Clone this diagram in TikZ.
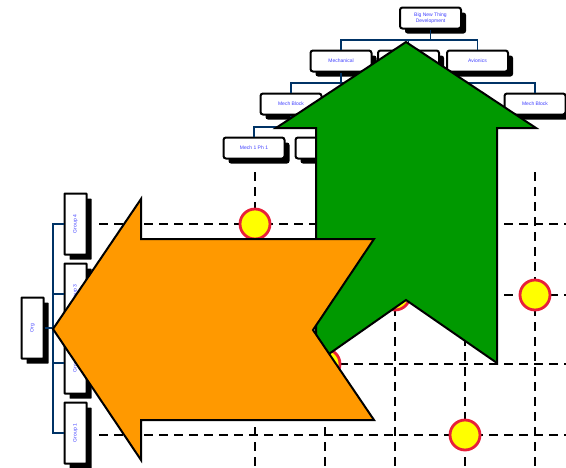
\documentclass[tikz,border=0pt]{standalone}
\usepackage{fontspec}
\setmainfont{Liberation Sans}
\usetikzlibrary{shadows}
\definecolor{navy}{HTML}{003366}
\definecolor{lbl}{HTML}{4040FF}
\definecolor{grn}{HTML}{009900}
\definecolor{org}{HTML}{FF9900}
\definecolor{ring}{HTML}{E8203A}
\definecolor{dot}{HTML}{FFFF00}
\tikzset{
  obox/.style={draw=black, line width=2pt, fill=white, rounded corners=2.5pt,
    minimum width=61pt, minimum height=21pt, inner sep=0pt, text=lbl,
    font=\fontsize{5}{6}\selectfont, align=center,
    drop shadow={shadow xshift=5pt, shadow yshift=-5pt, fill=black, opacity=1}},
  vbox/.style={obox, rounded corners=0.5pt, minimum width=22pt, minimum height=61pt},
  conn/.style={draw=navy, line width=1.6pt},
  gridline/.style={line width=2pt, dash pattern=on 9pt off 6pt},
  spot/.style={circle, draw=ring, fill=dot, line width=2.8pt, minimum size=30pt, inner sep=0pt},
  arrowshape/.style={draw=black, line width=2pt, line join=miter},
}
\begin{document}
\begin{tikzpicture}[x=1pt,y=-1pt]
\useasboundingbox (0,0) rectangle (566,467);
% top org tree
\node[obox] (top) at (430.5,18) {Big New Thing\\Development};
\node[obox] (mech) at (341,61) {Mechanical};
\node[obox] (mid) at (408.5,61) {};
\node[obox] (avi) at (477.5,61) {Avionics};
\node[obox] (mb1) at (291,104) {Mech Block};
\node[obox] (mb2) at (535,104) {Mech Block};
\node[obox] (ph1) at (254,148) {Mech 1 Ph 1};
\node[obox] (ph2) at (326,148) {};
\draw[conn] (top.south) -- (430.5,40) coordinate (t1);
\draw[conn] (mech.north) |- (t1) -| (avi.north);
\draw[conn] (mid.north) -- (408.5,40);
\draw[conn] (mech.south) -- (341,83) coordinate (m1);
\draw[conn] (mb1.north) |- (m1) -| (mb2.north);
\draw[conn] (mb1.south) -- (291,127) coordinate (p1);
\draw[conn] (ph1.north) |- (p1) -| (ph2.north);
% left org tree
\node[vbox] (orgn) at (32.5,328) {\rotatebox{90}{Org}};
\node[vbox] (g4) at (75.5,224) {\rotatebox{90}{Group 4}};
\node[vbox] (g3) at (75.5,294) {\rotatebox{90}{Group 3}};
\node[vbox] (g2) at (75.5,363) {\rotatebox{90}{Group 2}};
\node[vbox] (g1) at (75.5,433) {\rotatebox{90}{Group 1}};
\draw[conn, line width=2.4pt] (orgn.east) -- (53,328) coordinate (o1);
\draw[conn] (g4.west) -| (o1) |- (g1.west);
\draw[conn] (g3.west) -- (53,294);
\draw[conn] (g2.west) -- (53,363);
% grid
\foreach \x in {255,325,395,465,535} \draw[gridline] (\x,172) -- (\x,470);
\foreach \y in {224,295,364,435} \draw[gridline] (99,\y) -- (570,\y);
% spots
\node[spot] (s1) at (255,224) {};
\node[spot] (s2) at (395,295) {};
\node[spot] (s3) at (535,295) {};
\node[spot] (s4) at (325,364) {};
\node[spot] (s5) at (465,435) {};
% green up arrow
\draw[arrowshape, fill=grn] (406,42) -- (536,128) -- (497,128) -- (497,363) -- (406,300) -- (316,363) -- (316,128) -- (276,128) -- cycle;
% orange left arrow
\draw[arrowshape, fill=org] (53,329) -- (141,199) -- (141,239) -- (374,239) -- (313,330) -- (374,420) -- (141,420) -- (141,460) -- cycle;
\end{tikzpicture}
\end{document}
